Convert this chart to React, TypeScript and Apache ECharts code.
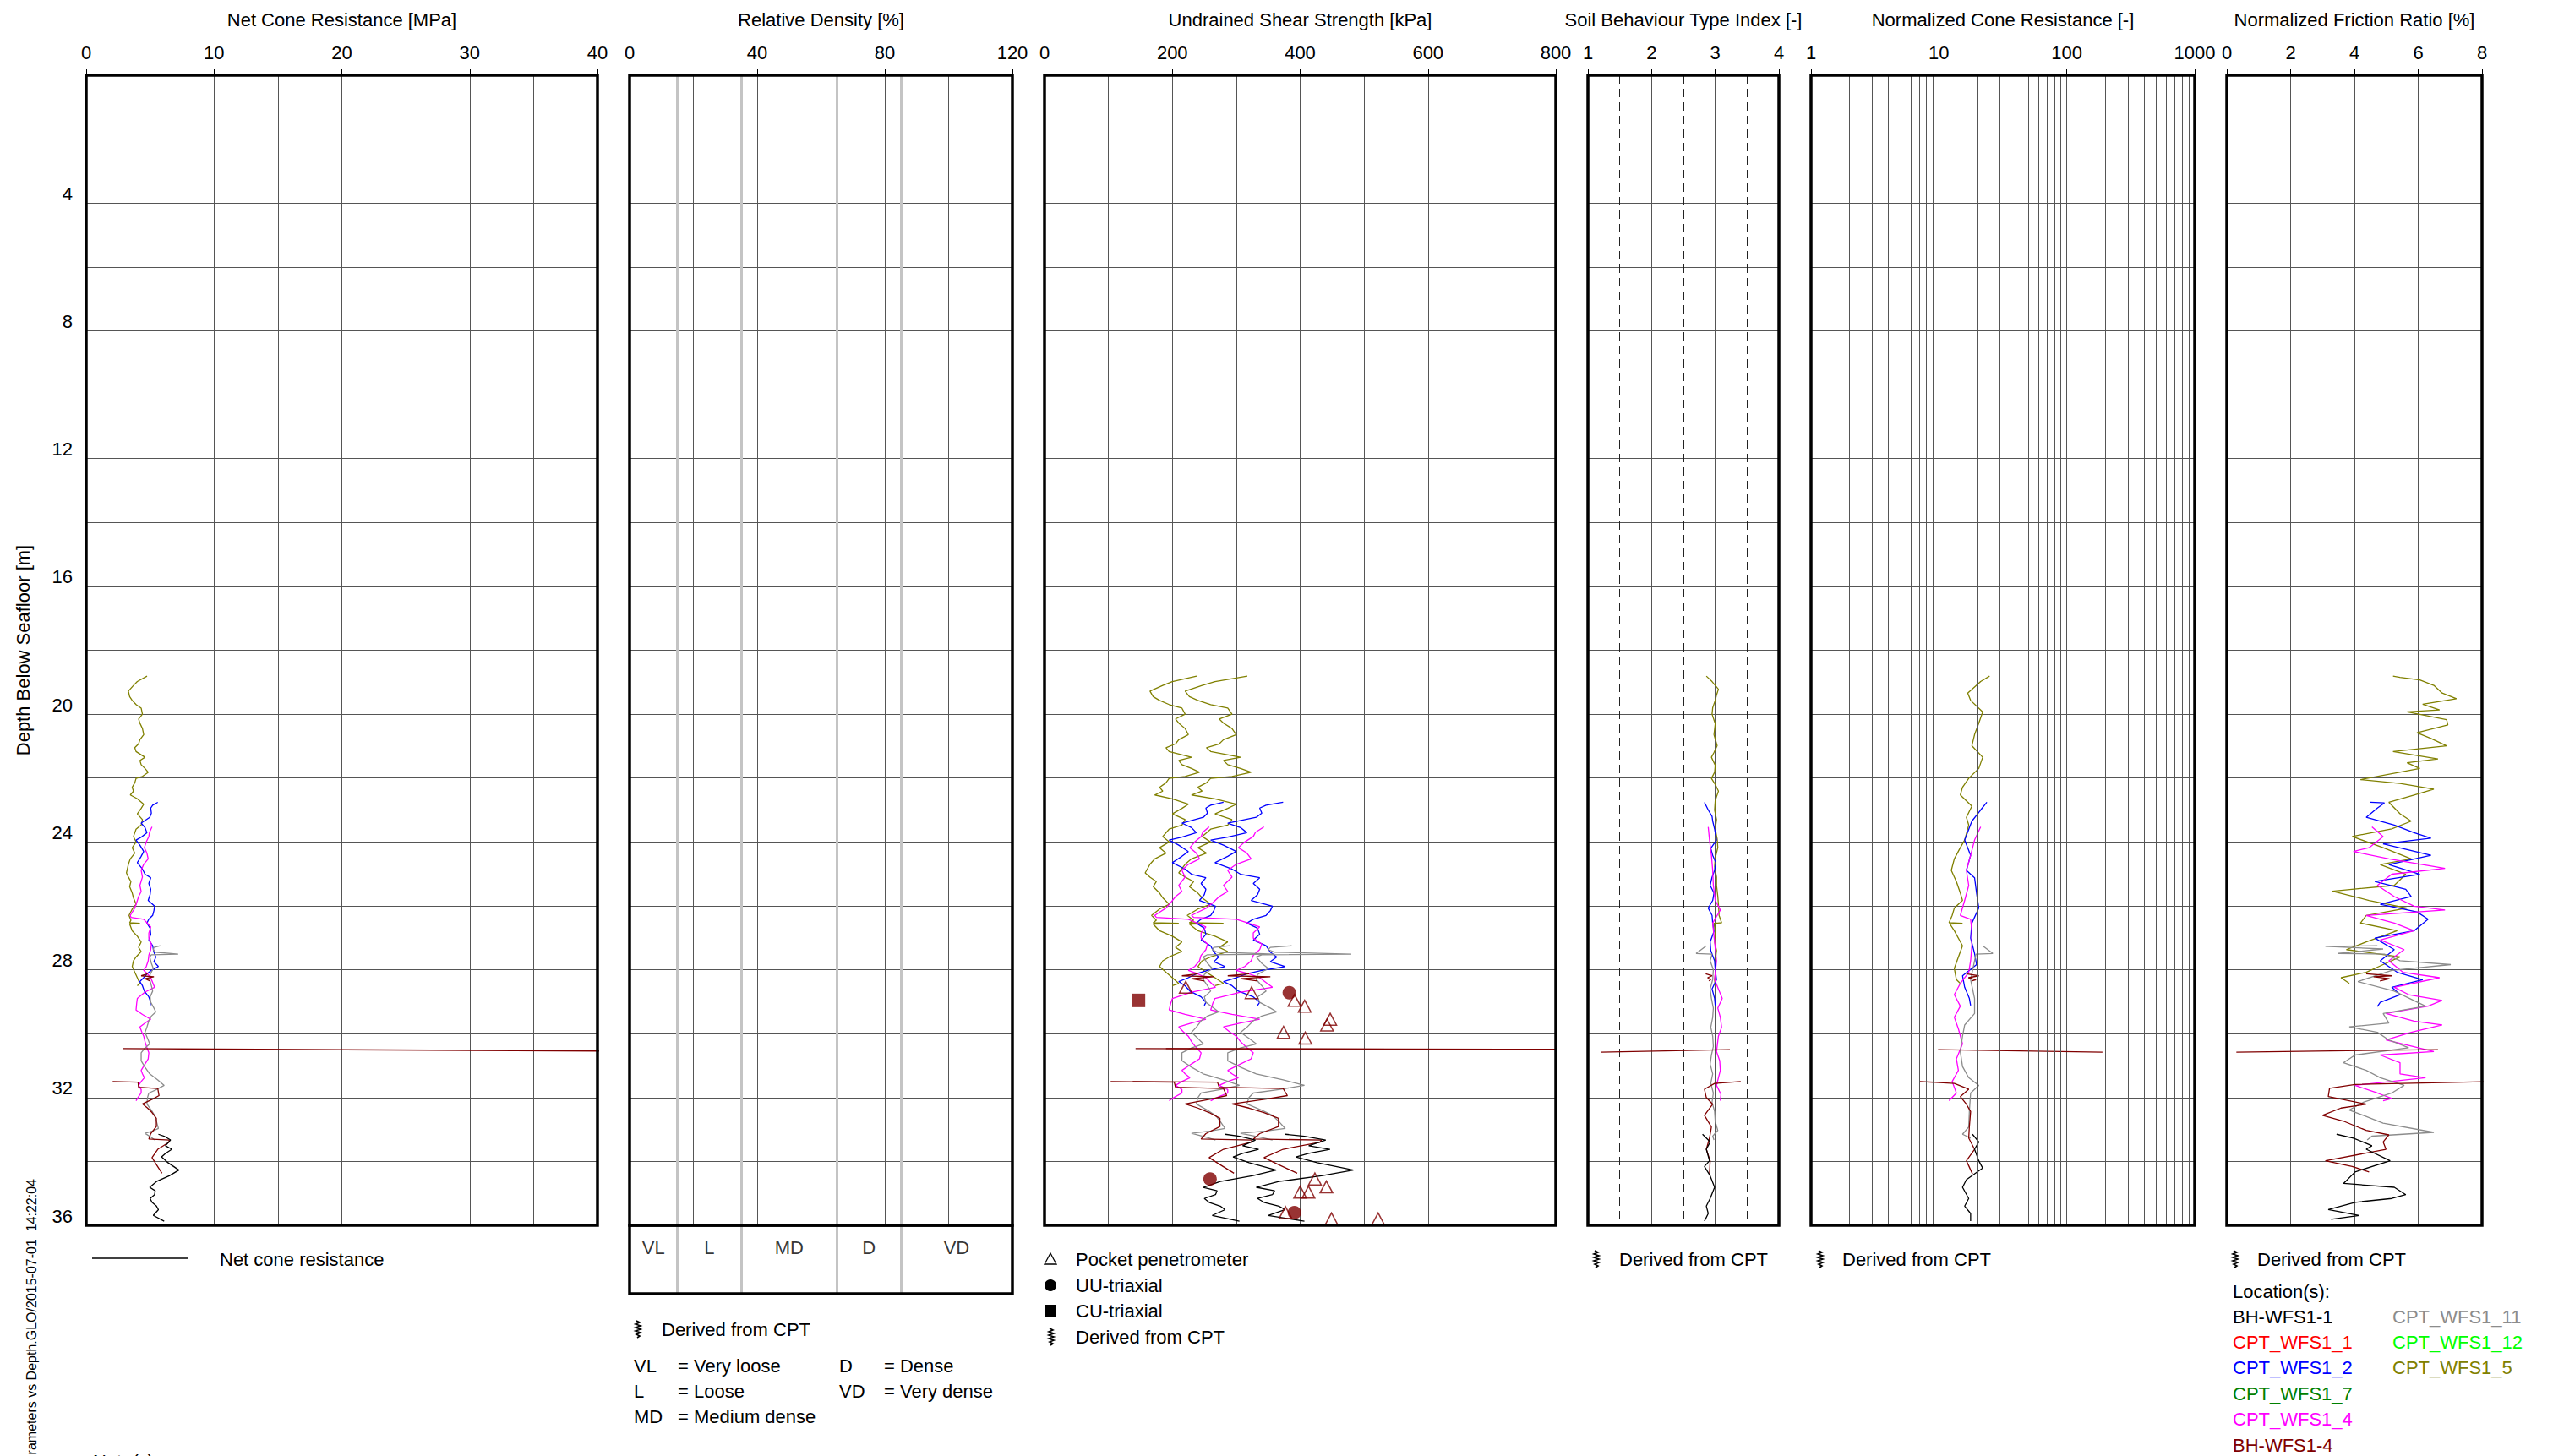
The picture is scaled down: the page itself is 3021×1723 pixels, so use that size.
import React, { useEffect, useRef } from "react";
import * as echarts from "echarts";

const FONT = '"Liberation Sans", Arial, Helvetica, sans-serif';
const GRID_LINE = "#555";

// ---------- colours (locations) ----------
const OLIVE = "#808000";
const BLUE = "#0000ff";
const MAGENTA = "#ff00ff";
const GRAY = "#8c8c8c";
const DARK_RED = "#800000";
const BLACK = "#000000";

// ---------- CPT_WFS1_5 (olive) [depth m, value] ----------
const cpt5Qnet = [[18.81,4.76],[18.98,4.0],[19.1,3.7],[19.28,3.3],[19.45,3.4],[19.57,3.6],[19.7,3.9],[19.81,4.3],[20.0,4.4],[20.15,4.1],[20.28,4.2],[20.45,4.4],[20.64,4.5],[20.8,4.2],[20.93,4.1],[21.05,3.8],[21.17,3.9],[21.35,4.6],[21.45,4.2],[21.58,4.3],[21.7,4.6],[21.82,4.85],[21.95,4.4],[22.01,3.9],[22.15,3.8],[22.29,3.6],[22.41,3.7],[22.53,3.45],[22.65,4.0],[22.82,4.5],[22.95,4.3],[23.12,4.0],[23.3,4.4],[23.47,4.3],[23.6,3.9],[23.83,3.7],[24.0,3.9],[24.18,3.6],[24.35,3.8],[24.53,3.45],[24.7,3.3],[24.97,3.15],[25.1,3.3],[25.24,3.5],[25.4,3.4],[25.6,3.6],[25.75,3.7],[25.95,3.9],[26.1,3.6],[26.3,3.35],[26.45,3.5],[26.53,3.4],[26.55,4.2],[26.57,3.4],[26.78,3.6],[26.95,4.0],[27.13,4.3],[27.3,4.1],[27.43,4.3],[27.6,3.9],[27.72,3.7],[27.9,3.6],[28.08,3.8],[28.25,4.0],[28.43,4.2],[28.5,4.0]];
const cpt5Ic = [[18.81,2.86],[18.98,2.95],[19.22,3.05],[19.4,3.02],[19.57,3.0],[19.8,2.96],[20.0,2.95],[20.3,3.0],[20.64,2.98],[20.99,3.03],[21.2,2.98],[21.35,2.94],[21.6,3.0],[21.82,2.99],[22.01,2.94],[22.2,3.0],[22.41,3.05],[22.7,3.0],[23.0,2.99],[23.3,3.02],[23.59,3.0],[23.9,3.03],[24.18,3.04],[24.5,3.0],[24.77,2.99],[25.1,3.02],[25.36,3.02],[25.7,3.04],[25.95,3.05],[26.3,3.06],[26.53,3.1],[26.55,2.98],[26.8,3.0],[27.13,2.99],[27.4,3.02],[27.72,3.0],[28.0,3.01],[28.31,2.99],[28.5,3.0]];
const cpt5Qt = [[18.81,24.9],[18.98,21.2],[19.34,16.8],[19.57,17.7],[19.93,22.0],[20.28,20.5],[20.64,19.0],[20.99,18.1],[21.35,22.0],[21.7,20.5],[22.01,17.1],[22.29,15.3],[22.53,14.7],[22.88,18.1],[23.23,16.4],[23.47,17.1],[23.94,15.9],[24.18,14.7],[24.53,13.2],[24.89,12.5],[25.24,13.7],[25.6,14.7],[25.83,15.3],[26.07,13.2],[26.3,12.7],[26.53,12.0],[26.55,15.3],[26.57,12.2],[26.78,13.2],[27.25,15.3],[27.6,14.2],[27.96,13.2],[28.31,13.7],[28.43,14.7]];
const cpt5Fr = [[18.81,5.21],[18.85,5.43],[18.93,6.05],[19.1,6.49],[19.34,6.75],[19.52,7.2],[19.69,6.14],[19.87,6.67],[19.93,5.65],[20.17,6.89],[20.34,6.93],[20.58,5.96],[20.76,6.4],[20.99,6.89],[21.17,5.21],[21.4,6.62],[21.52,5.65],[21.7,6.05],[22.05,4.19],[22.17,5.43],[22.35,6.49],[22.53,5.87],[22.76,5.08],[23.12,5.43],[23.35,5.78],[23.59,5.17],[23.83,3.93],[24.18,4.9],[24.53,5.78],[24.71,4.81],[25.01,5.61],[25.36,5.25],[25.54,3.31],[25.83,4.46],[26.07,5.65],[26.3,4.37],[26.54,4.19],[26.78,5.34],[27.13,4.37],[27.37,3.75],[27.6,5.43],[27.84,4.9],[28.08,4.37],[28.25,3.58],[28.43,3.84]];

// ---------- CPT_WFS1_2 (blue) ----------
const cpt2Qnet = [[22.76,5.6],[22.85,5.2],[22.94,5.05],[23.1,5.1],[23.23,4.97],[23.41,4.3],[23.55,4.6],[23.71,4.75],[23.85,4.3],[23.94,3.9],[24.1,4.2],[24.3,4.5],[24.45,4.3],[24.65,4.0],[24.85,4.4],[25.01,4.6],[25.12,5.05],[25.3,4.9],[25.48,5.05],[25.65,5.0],[25.83,4.85],[26.01,5.35],[26.15,5.3],[26.3,5.2],[26.42,4.9],[26.54,4.75],[26.7,5.0],[26.89,5.05],[27.07,4.9],[27.25,5.2],[27.45,5.3],[27.6,5.45],[27.75,5.3],[27.9,5.65],[28.02,5.1],[28.13,4.75],[28.25,4.5],[28.37,4.2],[28.5,4.4],[28.67,4.55],[28.85,4.9],[29.02,5.05],[29.12,5.0]];
const cpt2Ic = [[22.76,2.83],[23.0,2.89],[23.2,2.95],[23.35,2.96],[23.6,2.99],[23.94,3.02],[24.2,2.93],[24.42,2.96],[24.65,3.01],[24.89,2.99],[25.1,2.95],[25.36,2.92],[25.6,2.98],[25.83,2.96],[26.07,2.89],[26.3,2.95],[26.54,2.96],[26.8,2.98],[27.13,2.92],[27.4,2.93],[27.72,2.99],[28.0,3.0],[28.31,3.02],[28.6,2.95],[28.9,2.99],[29.12,3.0]];
const cpt2Qt = [[22.76,23.7],[23.0,21.2],[23.35,18.1],[23.94,15.9],[24.42,17.7],[24.89,16.4],[25.12,19.0],[25.6,19.7],[26.07,20.5],[26.54,18.1],[27.01,17.7],[27.49,19.0],[27.84,19.7],[28.19,15.3],[28.55,15.9],[28.9,17.3],[29.12,17.7]];
const cpt2Fr = [[22.76,4.5],[22.78,4.94],[22.94,4.72],[23.23,4.37],[23.47,5.25],[23.71,5.87],[23.88,6.4],[24.06,4.9],[24.42,6.4],[24.71,5.08],[25.01,6.05],[25.24,4.64],[25.48,5.61],[25.71,5.78],[25.95,4.81],[26.19,5.96],[26.42,6.31],[26.78,5.87],[27.01,4.64],[27.37,5.25],[27.72,4.81],[28.08,5.34],[28.31,6.14],[28.55,5.17],[28.78,5.43],[29.02,4.81],[29.15,4.72]];

// ---------- CPT_WFS1_4 (magenta) ----------
const cpt4Qnet = [[23.53,5.15],[23.7,4.95],[23.83,4.9],[24.0,4.7],[24.18,4.55],[24.35,4.75],[24.53,4.85],[24.7,4.5],[24.89,4.3],[25.1,4.4],[25.36,4.2],[25.55,4.3],[25.71,4.1],[25.9,3.95],[26.07,3.8],[26.2,3.6],[26.3,3.45],[26.36,3.5],[26.42,4.5],[26.55,4.8],[26.66,5.05],[26.85,4.9],[27.01,4.9],[27.2,5.1],[27.37,5.05],[27.55,4.9],[27.72,4.85],[27.9,4.7],[28.02,4.5],[28.13,4.8],[28.25,5.05],[28.4,5.2],[28.55,5.35],[28.7,4.6],[28.9,4.0],[29.05,3.95],[29.26,3.9],[29.4,4.4],[29.55,5.05],[29.67,4.6],[29.79,4.2],[29.95,4.35],[30.08,4.5],[30.25,4.6],[30.44,4.75],[30.6,4.9],[30.79,4.85],[30.95,4.6],[31.15,4.3],[31.26,4.4],[31.38,4.55],[31.5,4.3],[31.62,4.1],[31.75,4.3],[31.86,4.3],[31.97,4.1],[32.1,3.9]];
const cpt4Ic = [[23.53,2.89],[23.94,2.91],[24.42,2.94],[24.89,2.96],[25.36,2.97],[25.83,3.0],[26.13,3.08],[26.54,2.96],[27.13,2.99],[27.72,3.02],[28.31,2.99],[28.9,3.11],[29.2,3.04],[29.49,3.08],[29.8,3.1],[30.08,3.05],[30.56,3.02],[30.85,3.07],[31.15,3.08],[31.62,3.02],[31.9,3.09],[32.1,3.08]];
const cpt4Qt = [[23.53,21.2],[23.94,19.0],[24.42,17.7],[24.89,16.4],[25.36,17.1],[25.83,15.9],[26.3,14.7],[26.42,17.7],[26.78,18.1],[27.25,18.1],[27.72,17.7],[28.08,17.1],[28.43,14.7],[28.78,13.2],[29.14,14.7],[29.49,13.2],[29.85,14.2],[30.32,15.3],[30.79,13.7],[31.15,14.2],[31.5,12.7],[31.86,13.7],[32.1,12.0]];
const cpt4Fr = [[23.53,4.55],[23.83,4.9],[24.18,4.46],[24.3,3.97],[24.53,5.08],[24.83,6.84],[25.01,5.17],[25.36,4.72],[25.71,5.25],[26.01,5.87],[26.13,6.84],[26.3,4.37],[26.54,5.25],[26.78,5.87],[27.07,4.81],[27.37,5.56],[27.72,5.08],[28.08,5.52],[28.25,6.67],[28.55,5.25],[28.78,5.7],[28.96,6.75],[29.14,6.31],[29.37,4.99],[29.61,5.87],[29.73,6.75],[29.96,5.78],[30.2,4.99],[30.56,6.49],[30.67,4.81],[30.91,5.43],[31.26,5.43],[31.38,6.23],[31.62,4.02],[31.86,4.72],[32.03,5.17],[32.1,4.9]];

// ---------- CPT_WFS1_11 (gray) ----------
const cpt11Qnet = [[27.25,5.8],[27.3,5.3],[27.37,5.25],[27.45,5.4],[27.51,7.2],[27.53,5.1],[27.6,4.97],[27.8,5.1],[27.96,5.25],[28.15,5.0],[28.31,4.97],[28.5,5.1],[28.67,5.2],[28.85,5.0],[29.02,5.05],[29.2,5.3],[29.32,5.45],[29.45,5.1],[29.6,4.9],[29.8,4.75],[29.96,4.6],[30.15,4.8],[30.32,4.97],[30.45,4.6],[30.6,4.3],[30.85,4.3],[31.05,4.6],[31.26,4.97],[31.45,5.6],[31.62,6.1],[31.75,5.5],[31.86,4.9],[32.0,4.8],[32.2,4.75],[32.4,5.1],[32.56,5.35],[32.75,5.5],[32.97,5.65],[33.05,5.2],[33.12,4.6],[33.25,5.1],[33.33,5.35]];
const cpt11Ic = [[27.25,2.86],[27.37,2.78],[27.49,2.7],[27.51,2.95],[27.72,2.92],[28.0,2.97],[28.31,2.96],[28.6,2.92],[28.9,2.94],[29.2,2.97],[29.49,2.96],[29.8,2.93],[30.08,2.96],[30.4,2.97],[30.67,2.94],[30.95,2.92],[31.26,2.96],[31.55,2.93],[31.86,2.97],[32.15,2.95],[32.44,2.99],[32.75,3.0],[33.03,3.04],[33.21,2.96],[33.33,2.98]];
const cpt11Qt = [[27.25,22.0],[27.49,26.4],[27.51,19.5],[27.72,19.0],[28.31,17.7],[28.9,19.0],[29.37,19.0],[29.73,15.9],[30.08,15.3],[30.56,14.7],[31.03,15.3],[31.38,17.1],[31.62,20.5],[31.86,17.7],[32.44,17.3],[32.92,17.1],[33.15,15.3],[33.27,17.7]];
const cpt11Fr = [[27.25,4.72],[27.27,3.09],[27.35,4.9],[27.49,3.49],[27.51,4.94],[27.72,5.43],[27.84,7.02],[28.02,5.17],[28.37,4.11],[28.67,5.25],[29.14,6.23],[29.37,4.9],[29.67,5.08],[29.79,3.84],[29.96,4.72],[30.2,5.08],[30.44,5.7],[30.67,4.02],[30.91,3.66],[31.15,4.37],[31.38,4.81],[31.62,5.56],[31.86,5.17],[32.15,4.28],[32.39,3.84],[32.56,4.28],[32.8,4.9],[33.09,6.49],[33.21,4.55],[33.33,4.4]];

// ---------- BH-WFS1-4 (dark red), three pushes ----------
const bh4QnetA = [[28.13,4.8],[28.19,4.3],[28.22,5.3],[28.28,4.6],[28.35,5.0]];
const bh4QnetB = [[30.47,2.85],[30.56,48]];
const bh4QnetC = [[31.5,2.07],[31.52,4.06],[31.68,4.1],[31.72,5.6],[31.94,5.7],[32.05,5.2],[32.2,4.4],[32.33,4.8],[32.47,5.15],[32.65,5.49],[32.91,5.49],[33.13,5.05],[33.3,4.9],[33.33,6.5],[33.4,6.47],[33.62,5.6],[33.88,5.15],[34.1,5.49],[34.37,5.93]];
const bh4IcA = [[28.13,2.85],[28.19,2.95],[28.25,2.88],[28.31,2.93],[28.35,2.9]];
const bh4IcB = [[30.5,3.23],[30.58,1.2]];
const bh4IcC = [[31.5,3.4],[31.56,2.99],[31.74,2.83],[32.0,2.86],[32.21,2.96],[32.56,2.83],[32.92,2.94],[33.27,2.91],[33.62,2.86],[33.98,2.92],[34.39,2.91]];
const bh4QtA = [[28.13,16.4],[28.19,20.5],[28.25,17.0],[28.31,19.5],[28.35,18.0]];
const bh4QtB = [[30.5,9.85],[30.58,190]];
const bh4QtC = [[31.5,7.1],[31.56,13.2],[31.74,17.1],[31.97,14.7],[32.21,16.4],[32.44,17.7],[32.92,17.3],[33.27,17.1],[33.62,19.0],[33.98,16.4],[34.39,18.3]];
const bh4FrA = [[28.13,4.37],[28.19,5.17],[28.22,4.6],[28.28,5.1],[28.35,4.8]];
const bh4FrB = [[30.5,6.62],[30.58,0.3]];
const bh4FrC = [[31.5,8.5],[31.59,4.02],[31.71,3.22],[31.97,3.18],[32.21,4.37],[32.33,3.58],[32.56,3.0],[32.74,3.66],[33.03,4.37],[33.17,5.08],[33.39,4.9],[33.62,4.99],[33.98,3.09],[34.16,3.93],[34.33,4.46]];

// ---------- BH-WFS1-1 (black) ----------
const bh1Qnet = [[33.15,5.65],[33.21,6.1],[33.33,6.6],[33.51,6.2],[33.62,6.7],[33.75,6.2],[33.86,5.9],[34.04,6.4],[34.27,7.25],[34.45,6.5],[34.63,5.5],[34.81,4.97],[34.92,5.4],[35.04,5.35],[35.16,5.0],[35.28,5.15],[35.4,5.5],[35.51,5.65],[35.69,5.25],[35.87,6.1]];
const bh1Ic = [[33.15,2.8],[33.39,2.92],[33.62,2.86],[33.98,2.91],[34.16,2.83],[34.45,2.92],[34.81,2.99],[35.16,2.92],[35.4,2.86],[35.63,2.89],[35.87,2.83]];
const bh1Qt = [[33.15,18.3],[33.39,20.5],[33.62,19.0],[33.98,20.5],[34.21,22.0],[34.57,16.4],[34.81,15.3],[35.16,17.1],[35.4,15.9],[35.63,17.7],[35.87,17.7]];
const bh1Fr = [[33.15,3.44],[33.27,3.97],[33.51,4.55],[33.62,4.37],[33.98,5.12],[34.33,4.02],[34.69,3.66],[34.81,5.25],[35.04,5.61],[35.16,5.17],[35.28,4.02],[35.51,3.18],[35.69,4.15],[35.81,3.27]];

// ---------- laboratory tests, undrained shear strength [depth m, su kPa] ----------
const pocketPen = [[28.55,221],[28.72,324],[28.96,391],[29.14,407],[29.55,447],[29.73,442],[29.96,374],[30.14,408],[34.55,423],[34.8,441],[34.96,400],[34.96,413],[35.6,377],[35.8,449],[35.8,522]];
const uuTriax = [[28.72,383],[34.55,259],[35.6,391]];
const cuTriax = [[28.96,147]];

// cone factors used to derive su from net cone resistance
const NKT_VALUES = [20, 15];

// ---------- axis / class definitions ----------
const densityEdges = [0, 15, 35, 65, 85, 120];
const densityClasses = ["VL", "L", "MD", "D", "VD"];
const densityKeyLeft = [["VL", "= Very loose"], ["L", "= Loose"], ["MD", "= Medium dense"]];
const densityKeyRight = [["D", "= Dense"], ["VD", "= Very dense"]];
const qtMinorGrid = [2, 3, 4, 5, 6, 7, 8, 9, 20, 30, 40, 50, 60, 70, 80, 90, 200, 300, 400, 500, 600, 700, 800, 900];
const labTestNames = ["Pocket penetrometer", "UU-triaxial", "CU-triaxial", "Derived from CPT"];
const locationsCol1 = [["BH-WFS1-1", BLACK], ["CPT_WFS1_1", "#ff0000"], ["CPT_WFS1_2", BLUE], ["CPT_WFS1_7", "#008000"], ["CPT_WFS1_4", MAGENTA], ["BH-WFS1-4", DARK_RED]];
const locationsCol2 = [["CPT_WFS1_11", GRAY], ["CPT_WFS1_12", "#00ff00"], ["CPT_WFS1_5", OLIVE]];

const LOCATIONS = [
  { color: OLIVE, qnet: [cpt5Qnet], ic: [cpt5Ic], qt: [cpt5Qt], fr: [cpt5Fr] },
  { color: BLUE, qnet: [cpt2Qnet], ic: [cpt2Ic], qt: [cpt2Qt], fr: [cpt2Fr] },
  { color: MAGENTA, qnet: [cpt4Qnet], ic: [cpt4Ic], qt: [cpt4Qt], fr: [cpt4Fr] },
  { color: GRAY, qnet: [cpt11Qnet], ic: [cpt11Ic], qt: [cpt11Qt], fr: [cpt11Fr] },
  { color: DARK_RED, qnet: [bh4QnetA, bh4QnetB, bh4QnetC], ic: [bh4IcA, bh4IcB, bh4IcC], qt: [bh4QtA, bh4QtB, bh4QtC], fr: [bh4FrA, bh4FrB, bh4FrC] },
  { color: BLACK, qnet: [bh1Qnet], ic: [bh1Ic], qt: [bh1Qt], fr: [bh1Fr] },
];

// ---------- layout ----------
const TOP = 89;
const H = 1361;
const GRIDS = [
  { left: 102, top: TOP, width: 605, height: H },
  { left: 745, top: TOP, width: 453, height: H },
  { left: 1236, top: TOP, width: 605, height: H },
  { left: 1879, top: TOP, width: 226, height: H },
  { left: 2143, top: TOP, width: 454, height: H },
  { left: 2635, top: TOP, width: 302, height: H },
  { left: 745, top: TOP + H, width: 453, height: 81 },
];

const fmt = (v: number) => String(Math.round(v * 1000) / 1000);

function topAxis(gi: number, name: string, min: number, max: number, interval: number, minorSplit: number, dashedMinor = false) {
  return {
    gridIndex: gi, type: "value", position: "top", min, max, interval,
    name, nameLocation: "middle", nameGap: 55,
    nameTextStyle: { fontSize: 22, color: "#000", fontFamily: FONT },
    axisLine: { show: false },
    axisTick: { show: true, length: 7, lineStyle: { color: "#000", width: 1 } },
    axisLabel: { show: true, fontSize: 22, color: "#000", margin: 16, fontFamily: FONT, formatter: fmt },
    splitLine: { show: true, lineStyle: { color: GRID_LINE, width: 1 } },
    minorTick: { show: false, splitNumber: minorSplit },
    minorSplitLine: { show: minorSplit > 1, lineStyle: { color: dashedMinor ? "#222" : GRID_LINE, width: 1, type: dashedMinor ? [10, 6] : "solid" } },
  };
}

function depthAxis(gi: number) {
  const base: any = {
    gridIndex: gi, type: "value", inverse: true, min: 0, max: 36, interval: 2,
    axisLine: { show: false }, axisTick: { show: false },
    splitLine: { show: true, lineStyle: { color: GRID_LINE, width: 1 } },
    axisLabel: { show: false },
  };
  if (gi === 0) {
    base.axisLabel = {
      show: true, fontSize: 22, color: "#000", margin: 16, fontFamily: FONT, verticalAlign: "bottom",
      formatter: (v: number) => (v > 0 && v % 4 === 0 ? String(v) : ""),
    };
    base.name = "Depth Below Seafloor [m]";
    base.nameLocation = "middle";
    base.nameGap = 64;
    base.nameRotate = 90;
    base.nameTextStyle = { fontSize: 22, color: "#000", fontFamily: FONT };
  }
  return base;
}

function trace(gi: number, pts: number[][], color: string, scale = 1) {
  return {
    type: "line", xAxisIndex: gi, yAxisIndex: gi,
    data: pts.map(([d, v]) => [v * scale, d]),
    symbol: "none", showSymbol: false, silent: true, clip: true, z: 3,
    lineStyle: { color, width: 1.3 }, itemStyle: { color },
  };
}

function squiggle(cx: number, cy: number) {
  return {
    type: "polyline", x: cx, y: cy, z: 50, silent: true,
    shape: { points: [[-1, -10], [3, -8], [-2, -6], [4, -4], [-2, -2], [4, 0], [-2, 2], [4, 4], [-1, 6], [3, 8], [0, 10]] },
    style: { stroke: "#000", lineWidth: 1.6, fill: "none" },
  };
}

function label(x: number, y: number, text: string, extra: any = {}) {
  return {
    type: "text", x, y, z: 50, silent: true,
    style: { text, fill: "#000", fontSize: 22, fontFamily: FONT, textVerticalAlign: "middle", textAlign: "left", ...extra },
  };
}

function buildOption() {
  const series: any[] = [];
  LOCATIONS.forEach((loc) => {
    loc.qnet.forEach((seg) => series.push(trace(0, seg, loc.color)));
    loc.qnet.forEach((seg) => NKT_VALUES.forEach((nkt) => series.push(trace(2, seg, loc.color, 1000 / nkt))));
    loc.ic.forEach((seg) => series.push(trace(3, seg, loc.color)));
    loc.qt.forEach((seg) => series.push(trace(4, seg, loc.color)));
    loc.fr.forEach((seg) => series.push(trace(5, seg, loc.color)));
  });

  // relative density class boundaries
  const bounds = densityEdges.slice(1, -1);
  [1, 6].forEach((gi) => {
    series.push({
      type: "line", xAxisIndex: gi, yAxisIndex: gi, data: [[0, gi === 1 ? 0 : 0.5]], symbol: "none",
      lineStyle: { opacity: 0 }, silent: true, z: 1,
      markLine: { silent: true, symbol: "none", label: { show: false }, animation: false,
        lineStyle: { color: "#c4c4c4", width: 3, type: "solid" }, data: bounds.map((b) => ({ xAxis: b })) },
    });
  });
  series.push({
    type: "scatter", xAxisIndex: 6, yAxisIndex: 6, symbolSize: 1, silent: true,
    itemStyle: { color: "rgba(0,0,0,0)" },
    label: { show: true, position: "inside", fontSize: 22, color: "#000", fontFamily: FONT, formatter: (p: any) => p.name },
    data: densityClasses.map((c, i) => ({ name: c, value: [(densityEdges[i] + densityEdges[i + 1]) / 2, 0.33] })),
  });

  // log minor grid for normalized cone resistance
  series.push({
    type: "line", xAxisIndex: 4, yAxisIndex: 4, data: [[1, 0]], symbol: "none", lineStyle: { opacity: 0 }, silent: true, z: 1,
    markLine: { silent: true, symbol: "none", label: { show: false }, animation: false,
      lineStyle: { color: GRID_LINE, width: 1, type: "solid" }, data: qtMinorGrid.map((v) => ({ xAxis: v })) },
  });

  // lab tests
  series.push({
    type: "scatter", xAxisIndex: 2, yAxisIndex: 2, symbol: "triangle", symbolSize: [15, 14], silent: true, z: 5,
    itemStyle: { color: "rgba(255,255,255,0)", borderColor: DARK_RED, borderWidth: 1.5 },
    data: pocketPen.map(([d, s]) => [s, d]),
  });
  series.push({
    type: "scatter", xAxisIndex: 2, yAxisIndex: 2, symbol: "circle", symbolSize: 16, silent: true, z: 5,
    itemStyle: { color: DARK_RED }, data: uuTriax.map(([d, s]) => [s, d]),
  });
  series.push({
    type: "scatter", xAxisIndex: 2, yAxisIndex: 2, symbol: "rect", symbolSize: 16, silent: true, z: 5,
    itemStyle: { color: DARK_RED }, data: cuTriax.map(([d, s]) => [s, d]),
  });

  const graphic: any[] = [];
  GRIDS.forEach((g) => {
    graphic.push({ type: "rect", z: 100, silent: true, shape: { x: g.left, y: g.top, width: g.width, height: g.height },
      style: { fill: "none", stroke: "#000", lineWidth: 3.5 } });
  });

  // P1 legend
  graphic.push({ type: "line", z: 50, silent: true, shape: { x1: 109, y1: 1489, x2: 223, y2: 1489 }, style: { stroke: "#000", lineWidth: 1.5 } });
  graphic.push(label(260, 1490, "Net cone resistance"));

  // P2 legend
  graphic.push(squiggle(754, 1573));
  graphic.push(label(783, 1573, "Derived from CPT"));
  densityKeyLeft.forEach(([a, b], i) => {
    graphic.push(label(750, 1616 + i * 30, a));
    graphic.push(label(802, 1616 + i * 30, b));
  });
  densityKeyRight.forEach(([a, b], i) => {
    graphic.push(label(993, 1616 + i * 30, a));
    graphic.push(label(1046, 1616 + i * 30, b));
  });

  // P3 legend
  const ly = [1490, 1521, 1551, 1582];
  graphic.push({ type: "polygon", z: 50, silent: true, shape: { points: [[1243, 1483], [1250, 1496], [1236, 1496]] }, style: { fill: "none", stroke: "#000", lineWidth: 1.3 } });
  graphic.push({ type: "circle", z: 50, silent: true, shape: { cx: 1243, cy: ly[1], r: 7 }, style: { fill: "#000" } });
  graphic.push({ type: "rect", z: 50, silent: true, shape: { x: 1236, y: ly[2] - 7, width: 14, height: 14 }, style: { fill: "#000" } });
  graphic.push(squiggle(1243, ly[3]));
  labTestNames.forEach((t, i) => graphic.push(label(1273, ly[i], t)));

  // P4, P5, P6 legends
  graphic.push(squiggle(1888, 1490));
  graphic.push(label(1916, 1490, "Derived from CPT"));
  graphic.push(squiggle(2153, 1490));
  graphic.push(label(2180, 1490, "Derived from CPT"));
  graphic.push(squiggle(2644, 1490));
  graphic.push(label(2671, 1490, "Derived from CPT"));

  graphic.push(label(2642, 1528, "Location(s):"));
  locationsCol1.forEach(([n, c], i) => graphic.push(label(2642, 1558 + i * 30.4, n, { fill: c })));
  locationsCol2.forEach(([n, c], i) => graphic.push(label(2831, 1558 + i * 30, n, { fill: c })));

  // side stamp and note
  graphic.push({ type: "text", x: 37, y: 1395, rotation: Math.PI / 2, z: 50, silent: true,
    style: { text: "rameters vs Depth.GLO/2015-07-01  14:22:04", fill: "#000", fontSize: 16, fontFamily: FONT, textAlign: "right", textVerticalAlign: "middle" } });
  graphic.push({ type: "text", x: 110, y: 1718, z: 50, silent: true,
    style: { text: "Note(s):", fill: "#000", fontSize: 22, fontFamily: FONT, textAlign: "left", textVerticalAlign: "top" } });

  const xAxis: any[] = [
    topAxis(0, "Net Cone Resistance [MPa]", 0, 40, 10, 2),
    topAxis(1, "Relative Density [%]", 0, 120, 40, 2),
    topAxis(2, "Undrained Shear Strength [kPa]", 0, 800, 200, 2),
    topAxis(3, "Soil Behaviour Type Index [-]", 1, 4, 1, 2, true),
    {
      gridIndex: 4, type: "log", logBase: 10, min: 1, max: 1000, position: "top",
      name: "Normalized Cone Resistance [-]", nameLocation: "middle", nameGap: 55,
      nameTextStyle: { fontSize: 22, color: "#000", fontFamily: FONT },
      axisLine: { show: false },
      axisTick: { show: true, length: 7, lineStyle: { color: "#000", width: 1 } },
      axisLabel: { show: true, fontSize: 22, color: "#000", margin: 16, fontFamily: FONT, formatter: (v: number) => String(Math.round(v)) },
      splitLine: { show: true, lineStyle: { color: GRID_LINE, width: 1 } },
      minorSplitLine: { show: false },
    },
    topAxis(5, "Normalized Friction Ratio [%]", 0, 8, 2, 1),
    { gridIndex: 6, type: "value", min: 0, max: 120, show: false },
  ];
  const yAxis: any[] = [0, 1, 2, 3, 4, 5].map(depthAxis);
  yAxis.push({ gridIndex: 6, type: "value", min: 0, max: 1, inverse: true, show: false });

  return {
    animation: false,
    backgroundColor: "#ffffff",
    textStyle: { fontFamily: FONT, color: "#000" },
    grid: GRIDS.map((g) => ({ ...g, show: false, containLabel: false })),
    xAxis,
    yAxis,
    series,
    graphic,
  };
}

export default function App() {
  const ref = useRef<HTMLDivElement>(null);
  useEffect(() => {
    if (!ref.current) return;
    const chart = echarts.init(ref.current, null, { renderer: "svg" });
    chart.setOption(buildOption() as any);
    return () => chart.dispose();
  }, []);
  return (
    <div
      ref={ref}
      style={{ position: "fixed", left: 0, top: 0, width: 3021, height: 1723, background: "#fff", overflow: "hidden" }}
    />
  );
}
